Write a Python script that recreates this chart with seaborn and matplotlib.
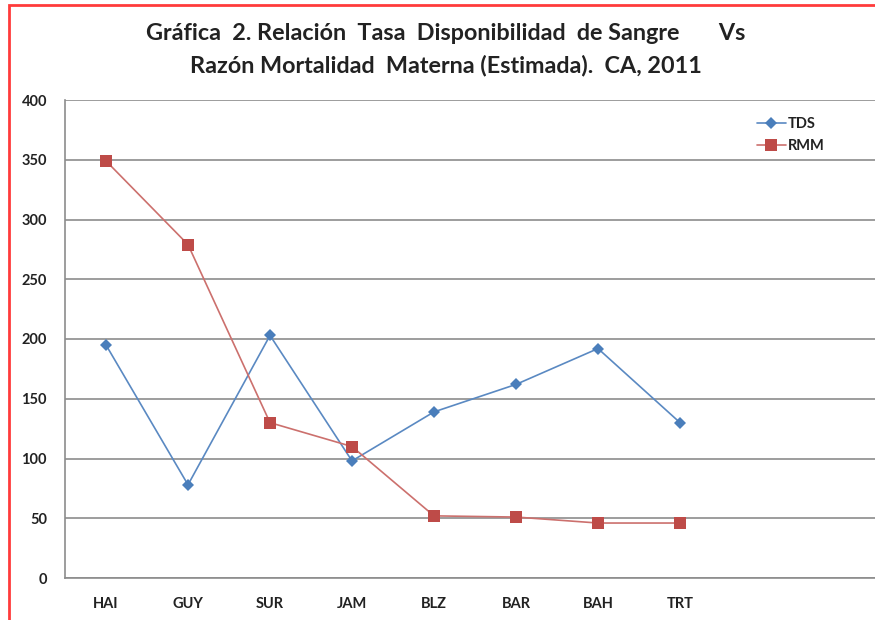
import matplotlib
matplotlib.use("Agg")
import matplotlib.pyplot as plt
import seaborn as sns
import pandas as pd
from matplotlib.patches import Rectangle

categories = ["HAI", "GUY", "SUR", "JAM", "BLZ", "BAR", "BAH", "TRT"]
tds = [195, 78, 203, 98, 139, 162, 192, 130]
rmm = [349, 279, 130, 110, 52, 51, 46, 46]
series_names = ["TDS", "RMM"]
yticks = [0, 50, 100, 150, 200, 250, 300, 350, 400]

sns.set_theme(style="white")
plt.rcParams['font.family'] = ['Lato', 'DejaVu Sans']

df = pd.DataFrame({
    "cat": categories * 2,
    "pos": list(range(len(categories))) * 2,
    "val": tds + rmm,
    "serie": [series_names[0]] * len(categories) + [series_names[1]] * len(categories),
})

W, H = 875, 620
fig = plt.figure(figsize=(W / 100, H / 100), dpi=100)
left, right, top, bottom = 65, 885, 100, 578
ax = fig.add_axes([left / W, 1 - bottom / H, (right - left) / W, (bottom - top) / H])

line_colors = {"TDS": "#5A89C2", "RMM": "#CC706D"}
marker_colors = {"TDS": "#4A7EBB", "RMM": "#BE4B48"}
markers = {"TDS": "D", "RMM": "s"}
sizes = {"TDS": 6, "RMM": 8}
for s in series_names:
    sub = df[df["serie"] == s]
    sns.lineplot(data=sub, x="pos", y="val", ax=ax, color=line_colors[s],
                 marker=markers[s], markersize=sizes[s], markeredgewidth=0,
                 markerfacecolor=marker_colors[s],
                 linewidth=1.2, label=s, sort=False)

ax.set_xlim(-0.5, 9.5)
ax.set_ylim(0, 400)
ax.set_yticks(yticks)
ax.set_yticklabels([str(v) for v in yticks], fontsize=10.5, fontweight='bold', color='#222222')
ax.set_xticks(range(len(categories)))
ax.set_xticklabels(categories, fontsize=10.5, fontweight='bold', color='#222222')
ax.tick_params(axis='x', pad=14, length=0)
ax.tick_params(axis='y', pad=13, length=0)
ax.set_xlabel("")
ax.set_ylabel("")
ax.grid(axis='y', color='#8C8C8C', linewidth=1.2)
ax.set_axisbelow(True)
for sp in ["top", "right"]:
    ax.spines[sp].set_visible(False)
for sp in ["left", "bottom"]:
    ax.spines[sp].set_color('#8C8C8C')
    ax.spines[sp].set_linewidth(1.2)

leg = ax.legend(loc='upper left', bbox_to_anchor=((751 - left) / (right - left), 1 - (111 - top) / (bottom - top)),
                frameon=False, fontsize=10.5, handlelength=2.0, handletextpad=0.1,
                borderaxespad=0, labelspacing=0.55)
for t in leg.get_texts():
    t.set_fontweight('bold')
    t.set_color('#222222')

fig.text(446 / W, 1 - 33 / H, "Gráfica  2. Relación  Tasa  Disponibilidad  de Sangre       Vs",
         ha='center', va='center', fontsize=16.8, fontweight='bold', color='#222222')
fig.text(446 / W, 1 - 66 / H, "Razón Mortalidad  Materna (Estimada).  CA, 2011",
         ha='center', va='center', fontsize=16.8, fontweight='bold', color='#222222')

fig.patches.append(Rectangle((9 / W, -0.1), 1.2, 1 - 5 / H + 0.1, transform=fig.transFigure,
                             fill=False, edgecolor='#FF3B3B', linewidth=2))

fig.savefig("out.png", dpi=100)
